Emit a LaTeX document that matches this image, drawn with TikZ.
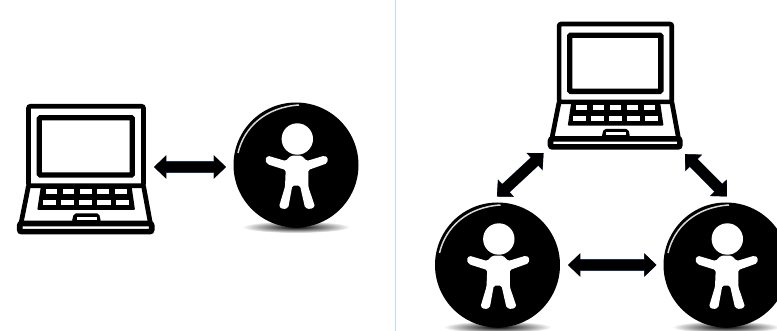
\documentclass[tikz,border=0pt]{standalone}
\usepackage{tikz}
\usetikzlibrary{calc, arrows.meta}
\definecolor{edgeblue}{RGB}{30,50,95}
\tikzset{
  iconspot/.style={inner sep=0pt, outer sep=0pt},
  lapspot/.style={iconspot, rectangle, minimum width=#1*137pt, minimum height=#1*130pt},
  kidspot/.style={iconspot, circle, minimum size=125pt},
  linkarrow/.style={
    preaction={draw=edgeblue, line width=11.2pt,
      {Triangle[length=12.4pt,width=23pt]}-{Triangle[length=12.4pt,width=23pt]}},
    {Triangle[length=12pt,width=22pt]}-{Triangle[length=12pt,width=22pt]},
    line width=10.6pt, black},
  divline/.style={line width=1.2pt, color={rgb,255:red,200;green,220;blue,240}},
  laptop/.pic={
    \draw[line width=4.7pt, rounded corners=2pt] (-57,16.7) -- (-57,-62.7) -- (58,-62.7) -- (58,16.7) -- cycle;
    \draw[line width=5.3pt, rounded corners=1pt] (-46.2,-51.3) rectangle (46.8,6);
    \draw[line width=4.7pt, line join=round] (-57,16.7) -- (-64.8,56);
    \draw[line width=4.7pt, line join=round] (58,16.7) -- (65.2,56);
    \draw[line width=5.6pt, rounded corners=2pt] (-65.8,54.5) rectangle (66.2,62.7);
    \fill[rounded corners=1pt] (-44.8,18.3) -- (46.2,18.3) -- (49.5,41) -- (-48.2,41) -- cycle;
    \foreach \xa/\xb in {-39.8/-28.2, -22.8/-11.5, -5.5/6.2, 11.8/23.5, 29.5/41.2}
      \fill[white] (\xa,20) rectangle (\xb,25);
    \foreach \xa/\xb in {-42.8/-29.8, -24.5/-11.5, -6.2/6.8, 11.8/25.2, 30.2/43.5}
      \fill[white] (\xa,31) rectangle (\xb,36);
    \fill[rounded corners=2pt] (-13.8,53) -- (-11.5,44.3) -- (13.5,44.3) -- (15.5,53) -- cycle;
    \fill[white] (-8.8,47.7) rectangle (11.2,51);
  },
  kid/.pic={
    \shade[inner color=black, outer color=white] (0,62) ellipse [x radius=54, y radius=6];
    \fill (0,0) circle (62.5);
    \draw[line width=1.5pt, white!85!black] (-58,-12) .. controls (-52,-38) and (-30,-58) .. (3,-60);
    \fill[white] (1.3,-26) circle (15.7);
    \fill[white, rounded corners=1.5pt] (-5,-9.3) -- (5.7,-9.3) -- (10.7,-4) -- (28.3,-9.3) -- (32,-7.3) -- (31,-1.7)
      -- (12.3,5) -- (12.3,21.7) -- (19,41.7) -- (14,44.3) -- (9,42.7) -- (4,20.7) -- (-3.7,20.7)
      -- (-7.7,42.7) -- (-12.7,44.3) -- (-17,41.7) -- (-11,21.7) -- (-10.3,5) -- (-28.3,-0.7)
      -- (-31,-5) -- (-28.3,-9.3) -- (-10.3,-4) -- cycle;
  },
}

\begin{document}
\begin{tikzpicture}[x=1pt, y=-1pt]
  \clip (0,0) rectangle (777,331);
  \coordinate (DivTop) at (395.5,0);
  \coordinate (DivEnd) at (395.5,331);
  \draw[divline] (DivTop) -- (DivEnd);

  % left pair
  \node[lapspot=1] (LapA) at (85.5,169) {};
  \node[kidspot] (KidA) at (296,165) {};
  \pic at (LapA) {laptop};
  \pic at (KidA) {kid};
  \draw[linkarrow, shorten >=7.5pt] ([yshift=2pt]LapA.east) -- ([yshift=-2pt]KidA.west);

  % right group
  \node[lapspot=0.98] (LapB) at (615,85.5) {};
  \node[kidspot] (KidB) at (497.5,265) {};
  \node[kidspot] (KidC) at (726,265) {};
  \pic[scale=0.98] at (LapB) {laptop};
  \pic at (KidB) {kid};
  \pic at (KidC) {kid};
  \draw[linkarrow, shorten <=8.8pt, shorten >=5.9pt] ([xshift=-7pt]KidB.north) -- (LapB.south west);
  \draw[linkarrow, shorten <=8.5pt, shorten >=7pt] ([xshift=7pt]KidC.north) -- ([xshift=-2pt]LapB.south east);
  \draw[linkarrow, shorten <=8pt, shorten >=7pt] (KidB.east) -- (KidC.west);
\end{tikzpicture}
\end{document}
